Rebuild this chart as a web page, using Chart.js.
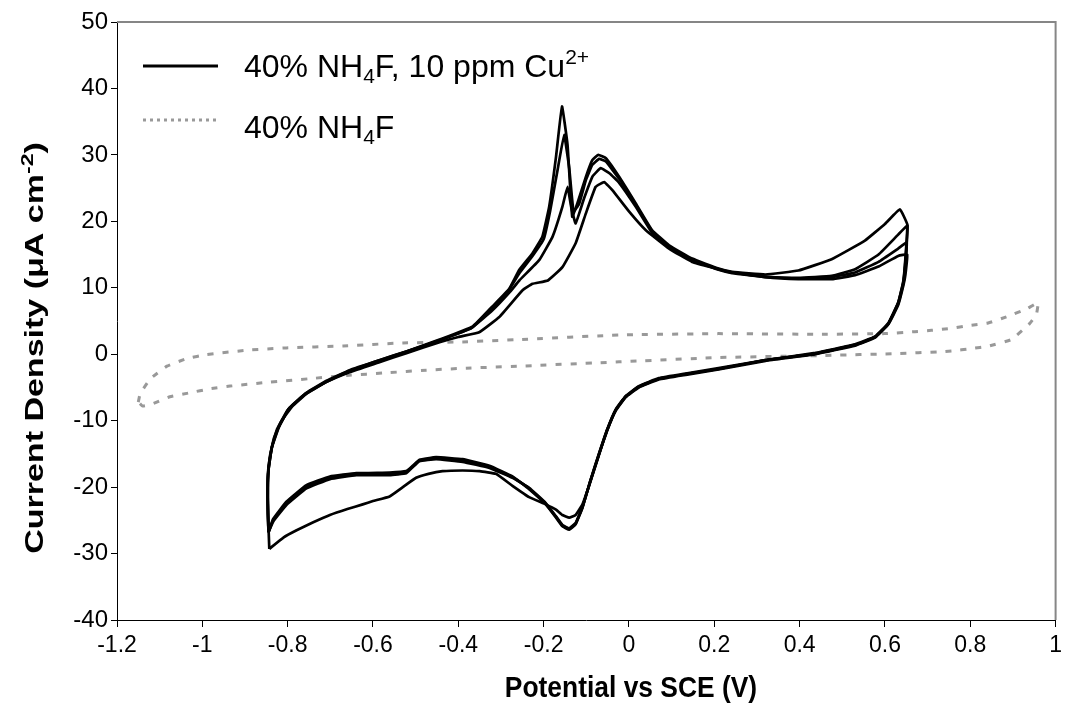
<!DOCTYPE html>
<html>
<head>
<meta charset="utf-8">
<title>Cyclic voltammogram</title>
<script src="https://cdn.jsdelivr.net/npm/chart.js@4/dist/chart.umd.min.js"></script>
<style>
  html, body { margin: 0; padding: 0; background: #fff; }
  #wrap { width: 1067px; height: 714px; }
</style>
</head>
<body>
<div id="wrap"><canvas id="cvChart" width="1067" height="714"></canvas></div>
<script>
// axis ticks
const xTickValues = [-1.2, -1, -0.8, -0.6, -0.4, -0.2, 0, 0.2, 0.4, 0.6, 0.8, 1];
const yTickValues = [-40, -30, -20, -10, 0, 10, 20, 30, 40, 50];

// [potential V, current density uA/cm2] - 40% NH4F + 10 ppm Cu2+, four cycles
const cycle1 = [
  [-0.843, -29.3], [-0.846, -24.0], [-0.846, -19.0], [-0.842, -15.5], [-0.832, -12.6], [-0.815, -10.1],
  [-0.790, -7.9], [-0.755, -5.9], [-0.710, -4.2], [-0.655, -2.7], [-0.585, -1.2], [-0.520, 0.2],
  [-0.444, 1.8], [-0.400, 2.6], [-0.351, 3.3], [-0.304, 5.6], [-0.250, 9.6], [-0.226, 10.6],
  [-0.190, 11.1], [-0.156, 13.1], [-0.125, 16.7], [-0.101, 21.2], [-0.078, 25.2], [-0.058, 25.9],
  [-0.039, 24.7], [0.000, 21.5], [0.039, 18.7], [0.094, 15.9], [0.148, 13.9], [0.242, 12.3],
  [0.320, 11.6], [0.397, 11.3], [0.475, 11.3], [0.530, 11.9], [0.585, 13.2], [0.631, 14.8], [0.652, 15.0],
  [0.648, 12.0], [0.643, 10.3], [0.631, 7.4], [0.608, 4.5], [0.577, 2.5], [0.530, 1.3], [0.437, 0.0],
  [0.320, -1.0], [0.210, -2.3], [0.133, -3.1], [0.070, -3.8], [0.023, -5.0], [-0.008, -6.5],
  [-0.031, -8.5], [-0.051, -11.5], [-0.070, -15.1], [-0.090, -19.1], [-0.109, -22.6], [-0.125, -24.2],
  [-0.140, -24.6], [-0.156, -24.2], [-0.171, -23.4], [-0.195, -22.6], [-0.234, -21.5], [-0.273, -19.8],
  [-0.312, -18.0], [-0.350, -17.6], [-0.390, -17.5], [-0.437, -17.6], [-0.470, -18.0], [-0.499, -18.6],
  [-0.530, -20.0], [-0.561, -21.4], [-0.600, -22.1], [-0.624, -22.6], [-0.660, -23.3], [-0.701, -24.2],
  [-0.740, -25.3], [-0.779, -26.5], [-0.810, -27.6], [-0.843, -29.3]
];
const cycle2 = [
  [-0.845, -26.8], [-0.847, -22.0], [-0.846, -18.0], [-0.838, -14.3], [-0.825, -11.3], [-0.800, -8.4],
  [-0.760, -6.1], [-0.710, -4.2], [-0.655, -2.6], [-0.585, -1.0], [-0.520, 0.4], [-0.444, 2.1],
  [-0.370, 3.9], [-0.320, 6.6], [-0.280, 9.3], [-0.257, 11.1], [-0.210, 14.2], [-0.179, 17.7],
  [-0.156, 22.2], [-0.144, 25.2], [-0.135, 22.0], [-0.125, 19.7], [-0.105, 23.5], [-0.085, 26.8],
  [-0.066, 28.0], [-0.045, 27.2], [-0.023, 25.8], [0.016, 22.2], [0.054, 18.3], [0.094, 16.1],
  [0.148, 14.2], [0.210, 12.8], [0.242, 12.3], [0.320, 11.7], [0.397, 11.4], [0.475, 11.6],
  [0.530, 12.3], [0.585, 13.9], [0.631, 15.9], [0.651, 16.8],
  [0.648, 13.5], [0.643, 10.6], [0.631, 7.6], [0.608, 4.6], [0.577, 2.6], [0.530, 1.4], [0.437, 0.1],
  [0.320, -0.9], [0.210, -2.2], [0.133, -3.0], [0.070, -3.7], [0.023, -4.9], [-0.008, -6.4],
  [-0.031, -8.4], [-0.051, -11.4], [-0.070, -15.0], [-0.090, -19.0], [-0.109, -23.0], [-0.125, -25.5],
  [-0.140, -26.3], [-0.156, -25.8], [-0.171, -24.5], [-0.195, -22.5], [-0.234, -20.2], [-0.273, -18.5],
  [-0.327, -17.0], [-0.390, -16.0], [-0.452, -15.6], [-0.491, -16.0], [-0.507, -16.9], [-0.522, -17.7],
  [-0.561, -18.0], [-0.639, -18.0], [-0.701, -18.6], [-0.756, -20.0], [-0.803, -22.5], [-0.834, -25.0],
  [-0.845, -26.8]
];
const cycle3 = [
  [-0.845, -26.8], [-0.847, -21.0], [-0.845, -17.0], [-0.836, -13.8], [-0.820, -10.9], [-0.795, -8.0],
  [-0.756, -5.8], [-0.709, -4.0], [-0.655, -2.4], [-0.585, -0.9], [-0.522, 0.4], [-0.444, 2.2],
  [-0.366, 4.2], [-0.320, 7.2], [-0.281, 9.8], [-0.257, 12.7], [-0.226, 15.2], [-0.203, 17.7],
  [-0.187, 22.2], [-0.171, 29.7], [-0.157, 37.3], [-0.144, 31.5], [-0.133, 20.7], [-0.121, 22.7],
  [-0.101, 26.7], [-0.086, 29.2], [-0.072, 30.0], [-0.054, 29.5], [-0.023, 26.7], [0.016, 22.7],
  [0.054, 18.7], [0.094, 16.4], [0.148, 14.4], [0.210, 12.9], [0.242, 12.4], [0.320, 12.0],
  [0.397, 12.6], [0.475, 14.3], [0.553, 17.1], [0.600, 19.6], [0.635, 21.8], [0.653, 19.4],
  [0.648, 14.0], [0.643, 10.8], [0.631, 7.8], [0.608, 4.7], [0.577, 2.7], [0.530, 1.5], [0.437, 0.2],
  [0.320, -0.9], [0.210, -2.1], [0.133, -2.9], [0.070, -3.6], [0.023, -4.8], [-0.008, -6.3],
  [-0.031, -8.3], [-0.051, -11.3], [-0.070, -14.9], [-0.090, -18.9], [-0.109, -23.1], [-0.125, -25.6],
  [-0.140, -26.4], [-0.156, -25.9], [-0.171, -24.6], [-0.195, -22.6], [-0.234, -20.3], [-0.273, -18.4],
  [-0.327, -16.8], [-0.390, -15.8], [-0.452, -15.5], [-0.491, -15.9], [-0.507, -16.8], [-0.522, -17.6],
  [-0.561, -17.8], [-0.639, -17.9], [-0.701, -18.4], [-0.756, -19.7], [-0.803, -22.2], [-0.834, -24.8],
  [-0.845, -26.8]
];
const cycle4 = [
  [-0.845, -26.8], [-0.847, -21.5], [-0.845, -17.5], [-0.837, -14.0], [-0.822, -11.1], [-0.797, -8.2],
  [-0.758, -5.9], [-0.709, -4.1], [-0.655, -2.5], [-0.585, -0.9], [-0.522, 0.4], [-0.444, 2.1],
  [-0.368, 4.0], [-0.322, 6.9], [-0.283, 9.5], [-0.257, 12.2], [-0.226, 14.8], [-0.200, 17.3],
  [-0.185, 21.5], [-0.168, 27.5], [-0.152, 33.0], [-0.140, 28.0], [-0.130, 21.5], [-0.117, 22.6],
  [-0.101, 26.2], [-0.086, 28.5], [-0.070, 29.4], [-0.054, 29.0], [-0.023, 26.4], [0.016, 22.5],
  [0.054, 18.5], [0.094, 16.2], [0.148, 14.2], [0.210, 12.7], [0.242, 12.2], [0.320, 11.6],
  [0.397, 11.5], [0.475, 11.8], [0.530, 12.8], [0.585, 15.0], [0.631, 18.0], [0.652, 19.3],
  [0.648, 14.5], [0.643, 11.0], [0.631, 7.7], [0.608, 4.6], [0.577, 2.6], [0.530, 1.4], [0.437, 0.1],
  [0.320, -0.9], [0.210, -2.2], [0.133, -3.0], [0.070, -3.7], [0.023, -4.9], [-0.008, -6.4],
  [-0.031, -8.4], [-0.051, -11.4], [-0.070, -15.0], [-0.090, -19.0], [-0.109, -23.0], [-0.125, -25.4],
  [-0.140, -26.2], [-0.156, -25.7], [-0.171, -24.4], [-0.195, -22.4], [-0.234, -20.1], [-0.273, -18.6],
  [-0.327, -17.1], [-0.390, -16.2], [-0.452, -15.8], [-0.491, -16.1], [-0.507, -17.0], [-0.522, -17.9],
  [-0.561, -18.2], [-0.639, -18.2], [-0.701, -18.8], [-0.756, -20.2], [-0.803, -22.7], [-0.834, -25.2],
  [-0.845, -26.8]
];

// 40% NH4F only
const blankCycle = [
  [-1.150, -7.2], [-1.146, -6.0], [-1.122, -3.7], [-1.083, -1.8], [-1.036, -0.65], [-0.990, -0.05],
  [-0.896, 0.6], [-0.803, 0.95], [-0.670, 1.25], [-0.530, 1.7], [-0.390, 1.85], [-0.257, 2.2],
  [-0.023, 2.9], [0.210, 3.1], [0.450, 3.0], [0.600, 3.1], [0.670, 3.4], [0.709, 3.6], [0.756, 3.9],
  [0.795, 4.3], [0.842, 4.7], [0.888, 5.7], [0.935, 6.9], [0.959, 7.8],
  [0.955, 6.0], [0.939, 4.6], [0.896, 2.2], [0.842, 1.2], [0.803, 0.85], [0.756, 0.5], [0.725, 0.35],
  [0.631, 0.1], [0.450, -0.2], [0.210, -0.5], [-0.023, -1.15], [-0.257, -1.8], [-0.382, -2.1],
  [-0.475, -2.4], [-0.569, -2.8], [-0.662, -3.2], [-0.752, -3.7], [-0.842, -4.2], [-0.935, -4.8],
  [-0.982, -5.2], [-1.029, -5.8], [-1.076, -6.4], [-1.118, -7.5], [-1.140, -7.8], [-1.150, -7.2]
];

const FONT = "'Liberation Sans', Arial, sans-serif";

// parts: [text, 0 normal | 1 subscript | -1 superscript]
function drawParts(ctx, parts, x, y, size, bold, center) {
  const fontFor = p => (bold ? 'bold ' : '') + (p[1] === 0 ? size : Math.round(size * 0.66)) + 'px ' + FONT;
  let total = 0;
  parts.forEach(p => { ctx.font = fontFor(p); total += ctx.measureText(p[0]).width; });
  let cx = center ? x - total / 2 : x;
  parts.forEach(p => {
    ctx.font = fontFor(p);
    const dy = p[1] === 1 ? size * 0.2 : (p[1] === -1 ? -size * 0.4 : 0);
    ctx.fillText(p[0], cx, y + dy);
    cx += ctx.measureText(p[0]).width;
  });
}

const legendItems = [
  { parts: [['40% NH', 0], ['4', 1], ['F, 10 ppm Cu', 0], ['2+', -1]], color: '#000', dash: [], lineY: 66, textY: 77 },
  { parts: [['40% NH', 0], ['4', 1], ['F', 0]], color: '#999', dash: [3, 4], lineY: 120, textY: 138 }
];

const decorPlugin = {
  id: 'decor',
  afterDraw(chart) {
    const ctx = chart.ctx;
    const a = chart.chartArea;
    ctx.save();
    // plot frame top / right
    ctx.strokeStyle = '#868686';
    ctx.lineWidth = 2;
    ctx.beginPath();
    ctx.moveTo(a.left, a.top);
    ctx.lineTo(a.right, a.top);
    ctx.lineTo(a.right, a.bottom);
    ctx.stroke();

    // legend
    legendItems.forEach(item => {
      ctx.strokeStyle = item.color;
      ctx.lineWidth = 3;
      ctx.setLineDash(item.dash);
      ctx.beginPath();
      ctx.moveTo(143, item.lineY);
      ctx.lineTo(218, item.lineY);
      ctx.stroke();
      ctx.setLineDash([]);
      ctx.fillStyle = '#000';
      ctx.textBaseline = 'alphabetic';
      drawParts(ctx, item.parts, 244, item.textY, 32, false, false);
    });

    // axis titles
    ctx.fillStyle = '#000';
    ctx.save();
    ctx.translate(631, 697);
    ctx.scale(0.88, 1);
    drawParts(ctx, [['Potential vs SCE (V)', 0]], 0, 0, 30, true, true);
    ctx.restore();

    ctx.save();
    ctx.translate(43, 348);
    ctx.rotate(-Math.PI / 2);
    ctx.scale(1.36, 1);
    drawParts(ctx, [['Current Density (\u03bcA cm', 0], ['-2', -1], [')', 0]], 0, 0, 25, true, true);
    ctx.restore();
    ctx.restore();
  }
};

const toPoints = arr => arr.map(p => ({ x: p[0], y: p[1] }));

const cuDatasets = [cycle1, cycle2, cycle3, cycle4].map((c, i) => ({
  label: '40% NH4F, 10 ppm Cu2+' + (i ? ' (cycle ' + (i + 1) + ')' : ''),
  data: toPoints(c),
  showLine: true,
  borderColor: '#000',
  borderWidth: 2.7,
  pointRadius: 0,
  tension: 0.1,
  fill: false
}));

const chart = new Chart(document.getElementById('cvChart'), {
  type: 'scatter',
  data: {
    datasets: cuDatasets.concat([{
      label: '40% NH4F',
      data: toPoints(blankCycle),
      showLine: true,
      borderColor: '#999999',
      borderWidth: 3,
      borderDash: [6, 9],
      pointRadius: 0,
      tension: 0.1,
      fill: false
    }])
  },
  plugins: [decorPlugin],
  options: {
    responsive: false,
    animation: false,
    layout: { padding: { top: 22, right: 9, left: 0, bottom: 0 } },
    plugins: {
      legend: { display: false },
      tooltip: { enabled: false }
    },
    scales: {
      x: {
        type: 'linear',
        min: -1.2,
        max: 1,
        afterBuildTicks: scale => { scale.ticks = xTickValues.map(v => ({ value: v })); },
        afterFit: scale => { scale.height = 94; },
        ticks: {
          color: '#000',
          font: { family: FONT, size: 23 },
          padding: 5,
          maxRotation: 0,
          autoSkip: false,
          callback: v => String(Math.round(v * 10) / 10)
        },
        grid: { drawOnChartArea: false, drawTicks: true, tickLength: 7, color: '#000' },
        border: { color: '#000', width: 1 }
      },
      y: {
        type: 'linear',
        min: -40,
        max: 50,
        afterBuildTicks: scale => { scale.ticks = yTickValues.map(v => ({ value: v })); },
        afterFit: scale => { scale.width = 117; },
        ticks: {
          color: '#000',
          font: { family: FONT, size: 24 },
          padding: 3,
          autoSkip: false,
          callback: v => String(v)
        },
        grid: { drawOnChartArea: false, drawTicks: true, tickLength: 6, color: '#000' },
        border: { color: '#000', width: 1 }
      }
    }
  }
});
</script>
</body>
</html>
